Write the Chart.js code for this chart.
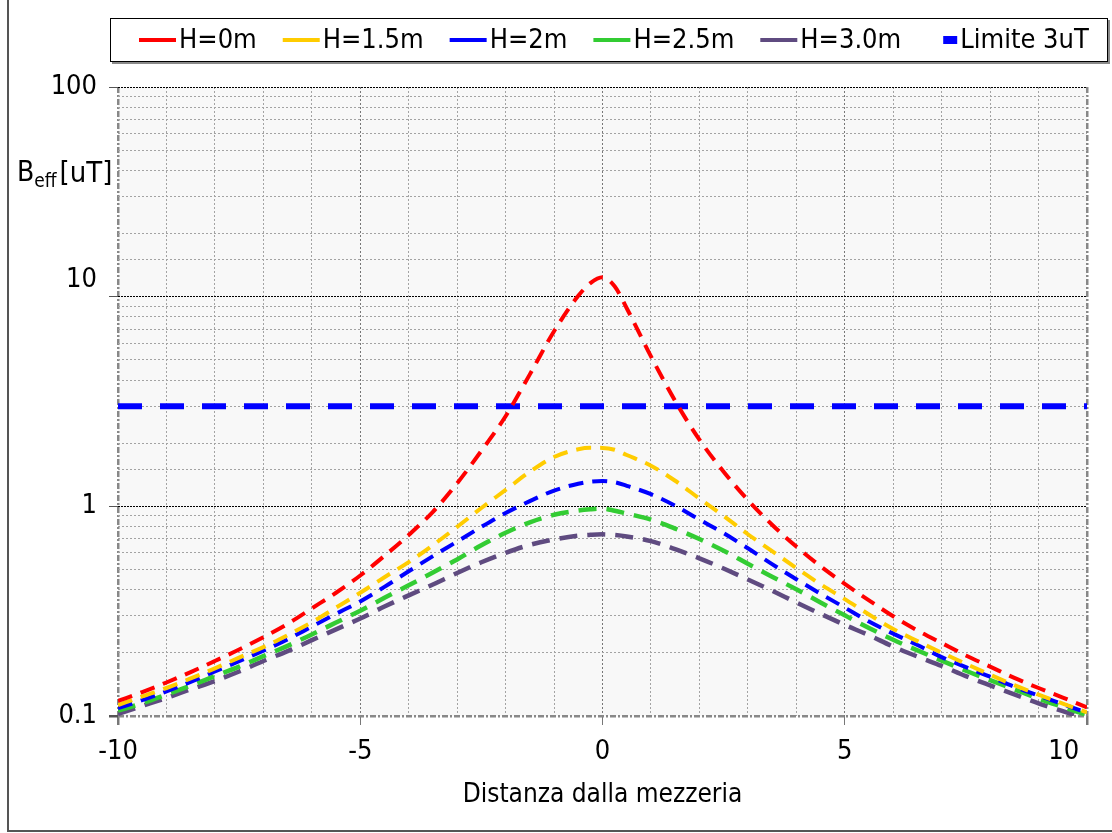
<!DOCTYPE html>
<html>
<head>
<meta charset="utf-8">
<script src="https://cdn.jsdelivr.net/npm/chart.js@4.4.0/dist/chart.umd.min.js"></script>
<style>
html,body{margin:0;padding:0;background:#fff;}
#wrap{width:1112px;height:833px;position:relative;}
</style>
</head>
<body>
<div id="wrap"><canvas id="c" width="1112" height="833"></canvas></div>
<script>
// ---- data ----
const xValues = [-10,-9.5,-9,-8.5,-8,-7.5,-7,-6.5,-6,-5.5,-5,-4.5,-4,-3.5,-3,-2.5,-2,-1.5,-1,-0.5,-0.25,0,0.25,0.5,1,1.5,2,2.5,3,3.5,4,4.5,5,5.5,6,6.5,7,7.5,8,8.5,9,9.5,10];
const seriesLabels = ['H=0m','H=1.5m','H=2m','H=2.5m','H=3.0m','Limite 3uT'];
const h0  = [0.118,0.130,0.1445,0.162,0.183,0.2075,0.2377,0.275,0.326,0.387,0.468,0.581,0.73,0.942,1.288,1.84,2.69,4.26,6.84,10.1,11.6,12.36,11.2,8.81,5.19,3.18,2.08,1.462,1.072,0.817,0.643,0.518,0.427,0.356,0.299,0.256,0.223,0.1945,0.172,0.152,0.136,0.1225,0.110];
const h15 = [0.1127,0.124,0.136,0.151,0.1687,0.19,0.213,0.243,0.28,0.329,0.387,0.459,0.542,0.653,0.798,0.982,1.197,1.462,1.72,1.871,1.901,1.90,1.862,1.758,1.563,1.324,1.089,0.90,0.736,0.612,0.508,0.425,0.361,0.305,0.26,0.2275,0.2004,0.1774,0.1574,0.1403,0.1265,0.1146,0.1042];
const h2  = [0.109,0.119,0.131,0.1455,0.163,0.1824,0.205,0.232,0.267,0.307,0.352,0.413,0.49,0.579,0.679,0.798,0.929,1.059,1.189,1.282,1.312,1.321,1.303,1.253,1.143,1.007,0.865,0.745,0.631,0.53,0.449,0.383,0.329,0.282,0.247,0.218,0.191,0.171,0.154,0.138,0.125,0.114,0.1035];
const h25 = [0.106,0.115,0.1265,0.1396,0.155,0.172,0.193,0.216,0.245,0.279,0.318,0.366,0.42,0.484,0.558,0.652,0.748,0.839,0.912,0.955,0.968,0.975,0.953,0.923,0.865,0.783,0.698,0.614,0.532,0.462,0.402,0.348,0.302,0.263,0.231,0.2056,0.1837,0.1644,0.1483,0.134,0.121,0.1104,0.101];
const h30 = [0.1023,0.1117,0.122,0.134,0.147,0.163,0.183,0.204,0.230,0.259,0.2917,0.3327,0.376,0.4236,0.481,0.541,0.60,0.655,0.695,0.724,0.731,0.735,0.7295,0.718,0.682,0.625,0.565,0.505,0.448,0.396,0.348,0.307,0.272,0.2427,0.2143,0.192,0.1734,0.155,0.14,0.1268,0.115,0.1054,0.0968];
const limitX = [-10, 10];
const limitY = [3, 3];
const xTickLabels = ['-10','-5','0','5','10'];
const yTickLabels = ['0.1','1','10','100'];

const FONT = "'DejaVu Sans Condensed', 'Liberation Sans Narrow', 'DejaVu Sans', sans-serif";
Chart.defaults.font.family = FONT;
Chart.defaults.color = '#000';

const toPts = (xs, ys) => xs.map((x, i) => ({x, y: ys[i]}));

function curve(label, ys, color, width, dash) {
  return {
    label, data: toPts(xValues, ys), borderColor: color, backgroundColor: color,
    borderWidth: width, borderDash: dash, pointRadius: 0, fill: false,
    cubicInterpolationMode: 'monotone', borderCapStyle: 'butt'
  };
}

const datasets = [
  curve(seriesLabels[0], h0,  '#ff0000', 4, [15, 9]),
  curve(seriesLabels[1], h15, '#ffcc00', 4, [15, 9]),
  curve(seriesLabels[2], h2,  '#0000ff', 4, [15, 9]),
  curve(seriesLabels[3], h25, '#33cc33', 4.5, [18, 10]),
  curve(seriesLabels[4], h30, '#5f4b80', 4.5, [18, 10]),
  {label: seriesLabels[5], data: toPts(limitX, limitY), borderColor: '#0000ff', backgroundColor: '#0000ff',
   borderWidth: 6, borderDash: [24, 18], pointRadius: 0, fill: false, legendShort: true}
];

const isMajorLog = v => Math.abs(Math.log10(v) - Math.round(Math.log10(v))) < 1e-9;

const plotBg = {
  id: 'plotBg',
  beforeDraw(chart) {
    const {ctx, chartArea: a} = chart;
    ctx.save();
    ctx.fillStyle = '#f8f8f8';
    ctx.fillRect(a.left, a.top, a.right - a.left, a.bottom - a.top);
    ctx.restore();
  }
};

const decor = {
  id: 'decor',
  afterDraw(chart) {
    const ctx = chart.ctx;
    ctx.save();
    // outer frame (left & bottom)
    ctx.strokeStyle = '#555';
    ctx.lineWidth = 2;
    ctx.beginPath();
    ctx.moveTo(8, 0); ctx.lineTo(8, 831); ctx.lineTo(1112, 831);
    ctx.stroke();

    // legend box
    ctx.fillStyle = '#8a8a8a';
    ctx.fillRect(112, 20, 998, 44);
    ctx.fillStyle = '#fff';
    ctx.fillRect(110, 18, 998, 44);
    ctx.strokeStyle = '#000';
    ctx.lineWidth = 1;
    ctx.strokeRect(110.5, 18.5, 997, 43);

    ctx.font = '27px ' + FONT;
    ctx.textBaseline = 'middle';
    ctx.textAlign = 'left';
    let x = 139;
    const cy = 40;
    chart.data.datasets.forEach(ds => {
      ctx.strokeStyle = ds.borderColor;
      ctx.setLineDash([]);
      ctx.beginPath();
      let tx;
      if (ds.legendShort) {
        ctx.lineWidth = 8;
        ctx.moveTo(x + 16, cy); ctx.lineTo(x + 30, cy);
        tx = x + 33;
      } else {
        ctx.lineWidth = 4;
        ctx.moveTo(x, cy); ctx.lineTo(x + 37, cy);
        tx = x + 40;
      }
      ctx.stroke();
      ctx.fillStyle = '#000';
      ctx.fillText(ds.label, tx, cy + 1);
      x = tx + ctx.measureText(ds.label).width + 26;
    });

    // y axis title with subscript
    ctx.textBaseline = 'alphabetic';
    ctx.fillStyle = '#000';
    ctx.font = '28px ' + FONT;
    ctx.fillText('B', 17, 181);
    let bx = 17 + ctx.measureText('B').width;
    ctx.font = '19px ' + FONT;
    ctx.fillText('eff', bx, 187);
    bx += ctx.measureText('eff').width + 3;
    ctx.font = '29px ' + FONT;
    ctx.fillText('[uT]', bx, 182);
    ctx.restore();
  }
};

new Chart(document.getElementById('c'), {
  type: 'line',
  data: {datasets},
  options: {
    responsive: false,
    animation: false,
    devicePixelRatio: 1,
    layout: {padding: {top: 87, right: 25, left: 0, bottom: 0}},
    plugins: {legend: {display: false}, tooltip: {enabled: false}, title: {display: false}},
    scales: {
      x: {
        type: 'linear', min: -10, max: 10,
        afterFit(s) { s.height = 117; s.paddingRight = 0; s.paddingLeft = 0; },
        border: {
          display: false,
          dash: c => (Math.abs(c.tick.value) === 10 ? [6, 2, 2, 2] : [2, 2])
        },
        grid: {
          color: c => {
            const v = c.tick.value;
            if (Math.abs(v) === 10) return '#888';
            return v % 5 === 0 ? '#777' : '#a3a3a3';
          },
          lineWidth: c => (Math.abs(c.tick.value) === 10 ? 2.5 : 1),
          tickLength: 9,
          tickColor: c => (c.tick.value % 5 === 0 ? '#777' : 'rgba(0,0,0,0)'),
          tickWidth: c => (Math.abs(c.tick.value) === 10 ? 2.5 : 1)
        },
        ticks: {
          stepSize: 1, autoSkip: false, maxRotation: 0, padding: 11,
          font: {size: 27},
          callback: v => {
            const lbl = xTickLabels.find(t => Number(t) === v);
            if (lbl === undefined) return '';
            return v === 10 ? lbl + '\u2007\u2007\u2007' : lbl;
          }
        },
        title: {display: true, text: 'Distanza dalla mezzeria', font: {size: 26}, padding: {top: 0, bottom: 22}}
      },
      y: {
        type: 'logarithmic', min: 0.1, max: 100,
        afterFit(s) { s.width = 118; s.paddingTop = 0; s.paddingBottom = 0; },
        border: {
          display: false,
          dash: c => {
            const v = c.tick.value;
            if (Math.abs(v - 0.1) < 1e-9) return [6, 2, 2, 2];
            return isMajorLog(v) ? [2, 1] : [2, 2];
          }
        },
        grid: {
          color: c => {
            const v = c.tick.value;
            if (Math.abs(v - 0.1) < 1e-9) return '#888';
            return isMajorLog(v) ? '#000' : '#a3a3a3';
          },
          lineWidth: c => (Math.abs(c.tick.value - 0.1) < 1e-9 ? 2.5 : 1),
          tickLength: 9,
          tickColor: c => (isMajorLog(c.tick.value) ? '#555' : 'rgba(0,0,0,0)')
        },
        ticks: {
          autoSkip: false, padding: 12,
          font: {size: 27},
          callback: v => {
            const lbl = yTickLabels.find(t => Math.abs(Number(t) - v) < 1e-9);
            if (lbl === undefined) return '';
            return lbl === '10' ? [lbl, ''] : lbl;
          }
        }
      }
    }
  },
  plugins: [plotBg, decor]
});
</script>
</body>
</html>
